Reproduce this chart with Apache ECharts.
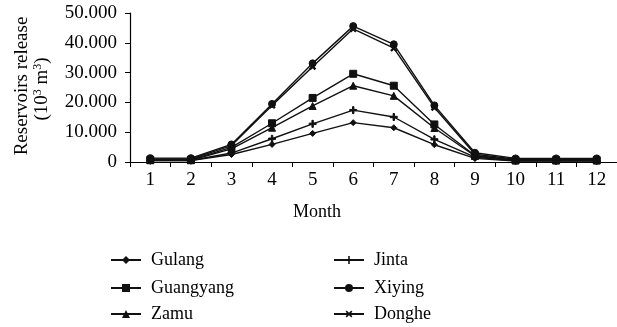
<!DOCTYPE html>
<html>
<head>
<meta charset="utf-8">
<script src="https://cdn.jsdelivr.net/npm/echarts@6/dist/echarts.min.js"></script>
<style>html,body{margin:0;padding:0;background:#fff}#c{width:617px;height:327px}</style>
</head>
<body>
<div id="c"></div>
<script>
const months = ['1','2','3','4','5','6','7','8','9','10','11','12'];
const gulang    = [500, 500, 2500, 5900, 9600, 13200, 11500, 5800, 1200, 300, 300, 300];
const guangyang = [700, 700, 4900, 13000, 21500, 29600, 25600, 12600, 2200, 600, 600, 600];
const zamu      = [600, 600, 4400, 11500, 18800, 25600, 22200, 11400, 2000, 500, 500, 500];
const jinta     = [500, 500, 3000, 7800, 12800, 17400, 15100, 7600, 1600, 400, 400, 400];
const xiying    = [1300, 1300, 5900, 19500, 33100, 45600, 39500, 19000, 3100, 1200, 1200, 1200];
const donghe    = [1000, 1000, 5500, 19000, 32000, 44700, 38200, 18300, 2600, 900, 900, 900];
const yTicks = [0, 10000, 20000, 30000, 40000, 50000];
const names = ['Gulang', 'Guangyang', 'Zamu', 'Jinta', 'Xiying', 'Donghe'];

const FONT = '"Liberation Serif", "DejaVu Serif", serif';
const plus = 'path://M4,0H6V4H10V6H6V10H4V6H0V4H4Z';

function mk(name, data, symbol, size, rot) {
  return {
    name: name, type: 'line', data: data,
    symbol: symbol, symbolSize: size, symbolRotate: rot || 0,
    showAllSymbol: true,
    lineStyle: {color: '#111', width: 1.4},
    itemStyle: {color: '#111', borderColor: '#111'},
    emphasis: {disabled: true},
    animation: false
  };
}

const legendPos = [[110, 251], [110, 279], [110, 305], [333, 251], [333, 279], [333, 305]];
const legends = names.map((n, i) => ({
  data: [n], orient: 'horizontal',
  left: legendPos[i][0], top: legendPos[i][1], padding: 0,
  itemWidth: 30, itemHeight: 10,
  textStyle: {color: '#000', fontSize: 18, fontFamily: FONT, padding: [0, 0, 0, 5]},
  selectedMode: false
}));

const chart = echarts.init(document.getElementById('c'));
chart.setOption({
  backgroundColor: '#fff',
  animation: false,
  textStyle: {fontFamily: FONT},
  grid: {left: 130, top: 13, width: 489, bottom: 165, containLabel: false},
  xAxis: {
    type: 'category', data: months, boundaryGap: true,
    axisLine: {lineStyle: {color: '#000', width: 1.2}},
    axisTick: {show: true, length: 5, lineStyle: {color: '#000'}},
    axisLabel: {color: '#000', fontSize: 19, fontFamily: FONT, margin: 9}
  },
  yAxis: {
    type: 'value', min: yTicks[0], max: yTicks[yTicks.length - 1], interval: 10000,
    splitLine: {show: false},
    axisLine: {show: true, lineStyle: {color: '#000', width: 1.2}},
    axisTick: {show: true, length: 5, lineStyle: {color: '#000'}},
    axisLabel: {color: '#000', fontSize: 19, fontFamily: FONT, margin: 13,
      formatter: v => v === 0 ? '0' : (v / 1000) + '.000'}
  },
  legend: legends,
  graphic: [
    {type: 'text', x: 22, y: 86, rotation: Math.PI / 2,
      style: {text: 'Reservoirs release', fontSize: 19, fontFamily: FONT, fill: '#000', align: 'center', verticalAlign: 'middle'}},
    {type: 'text', x: 42, y: 89, rotation: Math.PI / 2,
      style: {text: '(10{sup|3} m{sup|3})', fontSize: 19, fontFamily: FONT, fill: '#000', align: 'center', verticalAlign: 'middle',
        rich: {sup: {fontSize: 12, fontFamily: FONT, fill: '#000', padding: [0, 0, 9, 0]}}}},
    {type: 'text', x: 317, y: 212,
      style: {text: 'Month', fontSize: 18, fontFamily: FONT, fill: '#000', align: 'center', verticalAlign: 'middle'}}
  ],
  series: [
    mk(names[0], gulang, 'diamond', 6),
    mk(names[1], guangyang, 'rect', 7),
    mk(names[2], zamu, 'triangle', 7),
    mk(names[3], jinta, plus, 7),
    mk(names[4], xiying, 'circle', 7),
    mk(names[5], donghe, plus, 7, 45)
  ]
});
</script>
</body>
</html>
